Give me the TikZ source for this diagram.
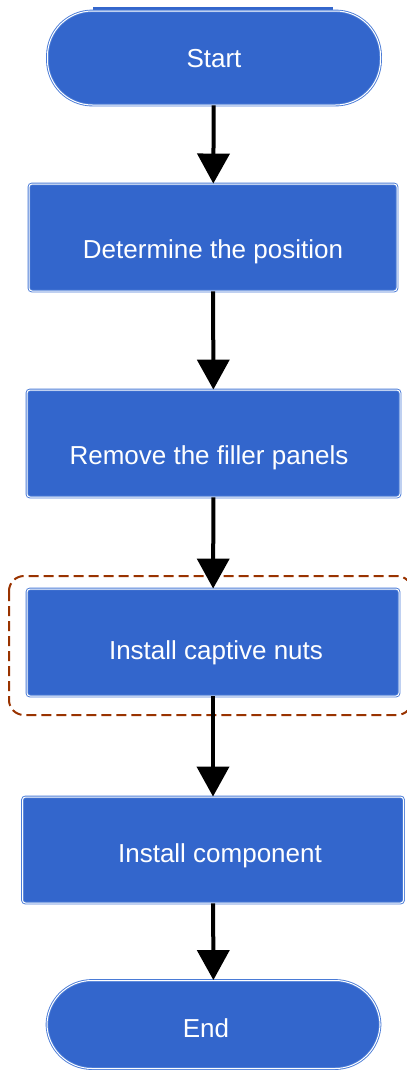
\documentclass[tikz,border=0pt]{standalone}
\usepackage{fontspec}
\setmainfont{Liberation Sans}
\usetikzlibrary{arrows.meta}
\definecolor{boxblue}{HTML}{3366CC}
\definecolor{edgeblue}{HTML}{4A7BD6}
\definecolor{markbrown}{HTML}{993300}

\begin{document}
\begin{tikzpicture}[x=1pt, y=-1pt,
    stepbox/.style ={rectangle, rounded corners=3pt, fill=boxblue, draw=edgeblue,
      line width=0.9pt, double=white, double distance=1pt, inner sep=0pt},
    terminal/.style ={stepbox, rounded corners=45pt, minimum width=333pt},
    steptext/.style ={text=white, font=\fontsize{26}{30}\selectfont, inner sep=0pt},
    flow/.style ={line width=4pt, -{Triangle[length=30pt, width=32pt]}}]
   \useasboundingbox (0,0) rectangle (407,1072);
   \fill[boxblue] (93,7) rectangle (333,12);

   \node[terminal, minimum height=94pt] (S)  at (214,58)  {};
   \node[stepbox, minimum width=368pt, minimum height=107pt] (A)  at (213,237.5)  {};
   \node[stepbox, minimum width=373pt, minimum height=107pt] (B)  at (213.5,443.5)  {};
   \node[stepbox, minimum width=372pt, minimum height=107pt] (C)  at (213,642.5)  {};
   \node[stepbox, minimum width=381pt, minimum height=106pt] (D)  at (213,850)  {};
   \node[terminal, minimum height=88pt] (E)  at (213.5,1024.5)  {};

   \node[steptext] (St) at (214,59)   {Start};
   \node[steptext] (At) at (213,252)  {Determine the position};
   \node[steptext] (Bt) at (209,458)  {Remove the filler panels};
   \node[steptext] (Ct) at (216,653)  {Install captive nuts};
   \node[steptext] (Dt) at (220,856)  {Install component};
   \node[steptext] (Et) at (206,1028) {End};

   \draw[markbrown, line width=2pt, dash pattern=on 10pt off 5pt, rounded corners=15pt]
     (9,576) rectangle (412,715);

   \draw[flow] (S) to (A);
   \draw[flow] (A) to (B);
   \draw[flow] (B) to (C);
   \draw[flow] (C) to (D);
   \draw[flow] (D) to (E);
\end{tikzpicture}
\end{document}
